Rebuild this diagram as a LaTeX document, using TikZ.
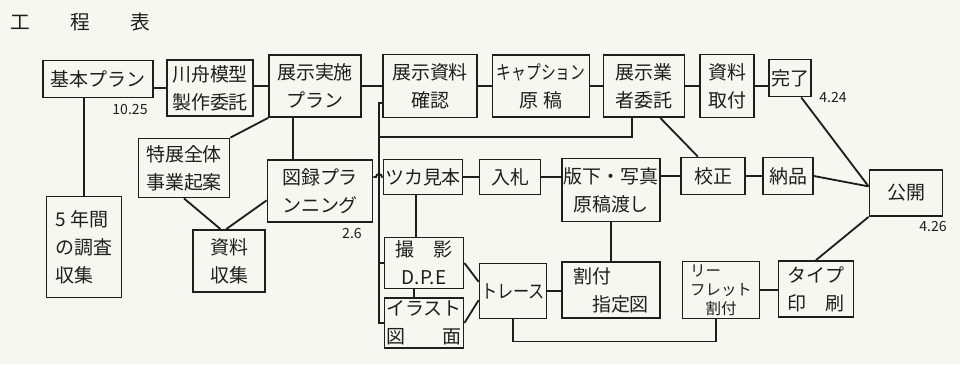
\documentclass[tikz,border=0pt]{standalone}
\usepackage{fontspec}
\usepackage{graphicx}
\usepackage{xcolor}
\setmainfont{Noto Sans CJK JP}
\definecolor{paper}{RGB}{247,247,242}
\definecolor{ink}{RGB}{30,30,30}

\begin{document}
\begin{tikzpicture}[
        x=0.025cm, y=-0.025cm,
        line width=1.3pt,
        draw=ink,
        box/.style 2 args={draw=ink, minimum width=#1*0.025cm, minimum height=#2*0.025cm, inner sep=1pt, align=center, text=ink, font=\fontsize{13.5}{20}\selectfont},
        datum/.style={text=ink, font=\fontsize{10}{12}\selectfont}
    ]
        \fill[paper] (0,0) rectangle (960,364);
        \useasboundingbox (0,0) rectangle (960,364);

        % Title
        \node[text=ink, font=\fontsize{14}{16}\selectfont] (title) at (80,22) {工\hspace{2.05em}程\hspace{2.05em}表};

        % Top row
        \node[box={110}{37}] (kihon) at (98,79) {基本プラン};
        \node[box={86}{56}] (kawabune) at (210,88) {川舟模型\\製作委託};
        \node[box={92}{62}] (jisshi) at (315,86) {展示実施\\プラン};
        \node[box={94}{63}] (kakunin) at (430,86) {展示資料\\確認};
        \node[box={97}{62}] (caption) at (541,86) {\scalebox{0.78}[1]{キャプション}\\原 稿};
        \node[box={81}{62}] (gyosha) at (644,86) {展示業\\者委託};
        \node[box={54}{63}] (toritsuke) at (727,86) {資料\\取付};
        \node[box={42}{37}] (kanryo) at (790,78) {完了};

        % Left part
        \node[box={91}{59}] (tokuten) at (184,168) {特展全体\\事業起案};
        \node[box={105}{62}] (zuroku) at (320,191) {図録プラ\\ンニング};
        \node[box={75}{101}, align=left] (gonen) at (84,247) {5 年間\\の調査\\収集};
        \node[box={72}{62}] (shushu) at (229,261) {資料\\収集};

        % Middle part
        \node[box={79}{35}] (tsuka) at (423,177) {ツカ見本};
        \node[box={61}{35}] (nyusatsu) at (510,177) {入札};
        \node[box={98}{63}] (hanshita) at (611,190) {版下・写真\\原稿渡し};
        \node[box={79}{51}] (satsuei) at (424,263) {撮　影\\D.P.E};
        \node[box={79}{50}] (illust) at (424,323) {イラスト\\図　　面};
        \node[box={67}{55}] (trace) at (513,291) {\scalebox{0.85}[1]{トレース}};
        \node[box={98}{56}, align=left] (waritsuke) at (611,290) {割付\\　指定図};

        % Right part
        \node[box={64}{37}] (kosei) at (713,176) {校正};
        \node[box={50}{37}] (nohin) at (788,176) {納品};
        \node[box={73}{46}] (kokai) at (906,193) {公開};
        \node[box={77}{57}, align=left, font=\fontsize{11}{13.5}\selectfont] (leaflet) at (721,290) {リー\\フレット\\　割付};
        \node[box={75}{56}] (type) at (816,289) {タイプ\\印　刷};

        % Dates
        \node[datum] (dkihon) at (130,109) {10.25};
        \node[datum] (dzuroku) at (352,233) {2.6};
        \node[datum] (dkanryo) at (833,97) {4.24};
        \node[datum] (dkokai) at (933,226) {4.26};

        % Horizontal links
        \foreach \i/\j in {jisshi/kakunin, kakunin/caption, caption/gyosha, gyosha/toritsuke, toritsuke/kanryo, tsuka/nyusatsu, nyusatsu/hanshita, kosei/nohin, leaflet/type, trace/waritsuke} {
            \draw (\i) -- (\i -| \j.west);
        }
        \foreach \i/\j in {kihon/kawabune, kawabune/jisshi, hanshita/kosei} {
            \draw (\i.east |- \j) -- (\j);
        }

        % Vertical links
        \draw (gonen) -- (gonen |- kihon.south);
        \draw (jisshi.235) -- (jisshi.235 |- zuroku.north);
        \draw (tsuka.250) -- (tsuka.250 |- satsuei.north);
        \draw (satsuei.250) -- (satsuei.250 |- illust.north);
        \draw (hanshita) -- (waritsuke);

        % Slanted links
        \draw (jisshi.south west) -- (tokuten.north east);
        \draw (tokuten.south) -- (shushu.105);
        \draw (zuroku.190) -- (shushu.95);
        \draw (satsuei.east) -- (trace.165);
        \draw (illust.east) -- (trace.195);
        \draw (gyosha.297) -- (kosei.128);
        \draw (kanryo.300) -- (kokai.170);
        \draw (nohin.east) -- (kokai.170);
        \draw (type.north) -- (kokai.south west);

        % Bus on the left of the middle part
        \coordinate (bustop) at (379,103);
        \coordinate (busmid) at (379,137);
        \coordinate (busbot) at (379,323);
        \coordinate (jump) at (376,177);
        \draw (kakunin.west |- bustop) -- (bustop) -- (busbot) -- (illust);
        \draw (gyosha.250) |- (busmid);
        \draw (bustop |- satsuei) -- (satsuei);
        \draw (zuroku.east |- tsuka) -- (jump) arc[start angle=180, end angle=0, radius=0.075cm] -- (tsuka);

        % Trace to leaflet
        \draw (trace.south) -- ++(0,22) -| (leaflet.260);

    \end{tikzpicture}
\end{document}
